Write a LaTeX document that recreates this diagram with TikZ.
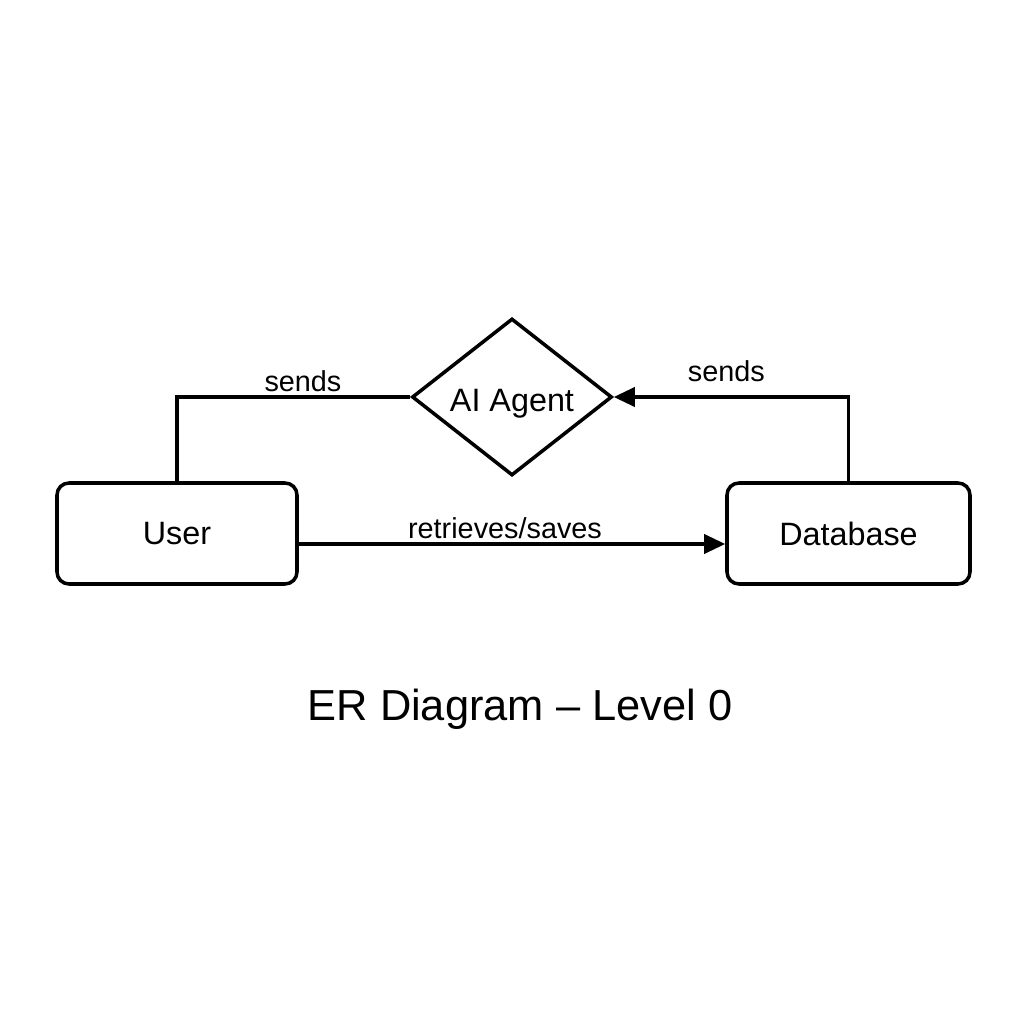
\documentclass[tikz,border=0pt]{standalone}
\usepackage{fontspec}
\setmainfont{Liberation Sans}
\usetikzlibrary{shapes.geometric,arrows.meta}
\tikzstyle{entity} = [rectangle, rounded corners=0.24cm, minimum height=2.02cm, draw=black, line width=2pt, font=\fontsize{18.4}{22}\selectfont]
\tikzstyle{relation} = [diamond, aspect=1.27, inner sep=0pt, minimum width=4cm, minimum height=3.14cm, draw=black, line width=2pt, font=\fontsize{18.4}{22}\selectfont]
\tikzstyle{link} = [line width=2pt]
\tikzstyle{arrow} = [line width=2pt,-{Triangle[length=0.42cm,width=0.38cm]}]
\tikzstyle{lbl} = [font=\fontsize{16.4}{20}\selectfont, inner sep=2pt]
\begin{document}
\begin{tikzpicture}
\useasboundingbox (0,0) rectangle (20.48,20.48);
\node (user) [entity, minimum width=4.8cm] at (3.54,9.81) {User};
\node (db) [entity, minimum width=4.86cm] at (16.97,9.81) {Database};
\node (agent) [relation] at (10.24,12.54) {\raisebox{-0.29cm}[0pt][0pt]{AI Agent}};
\draw[link] (user.north) |- (agent.west) node [lbl,pos=0.77,above] {sends};
\draw[arrow] (db.north) |- (agent.east) node [lbl,pos=0.76,above,yshift=0.2cm] {sends};
\draw[arrow] ([yshift=-0.21cm]user.east) -- ([yshift=-0.21cm]db.west)
  node [lbl,midway,above,xshift=-0.14cm] {retrieves/saves};
\node (title) [font=\fontsize{24.7}{30}\selectfont] at (10.4,6.3) {ER Diagram -- Level 0};
\end{tikzpicture}
\end{document}
